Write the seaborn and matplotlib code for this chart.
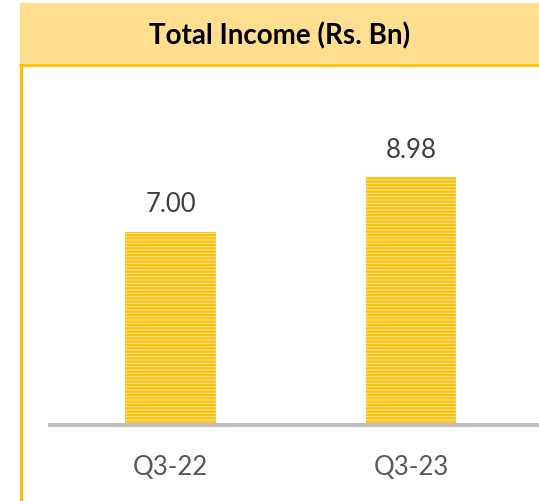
import matplotlib.pyplot as plt
import seaborn as sns
from matplotlib.patches import Rectangle
from matplotlib.lines import Line2D

sns.set_theme(style="white")
plt.rcParams["font.family"] = ["Lato", "DejaVu Sans"]
plt.rcParams["hatch.linewidth"] = 1.6

quarters = ["Q3-22", "Q3-23"]
income = [7.00, 8.98]
title = "Total Income (Rs. Bn)"

W, H = 539, 502
fig = plt.figure(figsize=(W / 100, H / 100), dpi=100)

# header band
fig.patches.append(Rectangle((20 / W, 1 - 65 / H), 1.05 - 20 / W, 61 / H,
                             transform=fig.transFigure, facecolor="#FFDF8F",
                             edgecolor="none", zorder=0))
fig.lines.append(Line2D([20 / W, 1.05], [1 - 66 / H, 1 - 66 / H],
                        transform=fig.transFigure, color="#FFC000", lw=2))
fig.lines.append(Line2D([21 / W, 21 / W], [0, 1 - 66 / H],
                        transform=fig.transFigure, color="#FFC000", lw=2.2))
fig.text(280 / W, 1 - 36 / H, title, ha="center", va="center",
         fontsize=20, fontweight="bold", color="black")

ax = fig.add_axes([50 / W, 1 - 426 / H, 1 - 50 / W, (426 - 66) / H])
sns.barplot(x=quarters, y=income, width=0.378, color="#FFE89C",
            edgecolor="#FFC000", linewidth=0, ax=ax)
for p in ax.patches:
    p.set_hatch("-----")

ax.bar_label(ax.containers[0], fmt="%.2f", padding=11, fontsize=18.5, color="#404040")

ax.set_xlim(-0.501, 1.532)
ax.set_ylim(0, 13.04)
ax.set_yticks([])
ax.set_xlabel("")
ax.set_ylabel("")
for s in ["top", "right", "left"]:
    ax.spines[s].set_visible(False)
ax.spines["bottom"].set_color("#BFBFBF")
ax.spines["bottom"].set_linewidth(3)
ax.tick_params(axis="x", length=0, pad=21, labelsize=18.5, labelcolor="#595959")
ax.set_facecolor("none")

fig.savefig("out.png", dpi=100)
